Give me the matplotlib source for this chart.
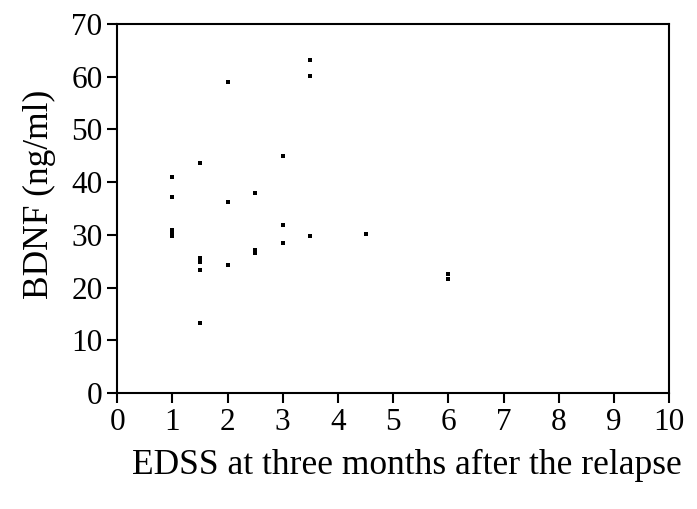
import matplotlib
matplotlib.use("Agg")
import matplotlib.pyplot as plt

# ---- Data ----
edss = [1, 1, 1, 1, 1,
        1.5, 1.5, 1.5, 1.5, 1.5,
        2, 2, 2,
        2.5, 2.5, 2.5,
        3, 3, 3,
        3.5, 3.5, 3.5,
        4.5,
        6, 6]
bdnf = [41.0, 37.1, 31.0, 30.3, 29.8,
        43.6, 25.6, 24.8, 23.3, 13.3,
        58.9, 36.3, 24.2,
        38.0, 27.2, 26.6,
        45.0, 31.9, 28.5,
        63.1, 60.1, 29.8,
        30.2,
        22.5, 21.6]

x_ticks = list(range(0, 11))
y_ticks = list(range(0, 71, 10))

plt.rcParams['font.family'] = ['Liberation Serif', 'DejaVu Serif']

fig = plt.figure(figsize=(6.97, 5.09), dpi=100)
ax = fig.add_axes([0.168, 0.228, 0.792, 0.725])

ax.scatter(edss, bdnf, marker="s", s=12, color="black", linewidths=0)

ax.set_xlim(0, 10)
ax.set_ylim(0, 70)
ax.set_xticks(x_ticks)
ax.set_yticks(y_ticks)
ax.tick_params(direction="out", length=7.5, width=1.5, labelsize=22.5, pad=3)
for sp in ax.spines.values():
    sp.set_linewidth(1.5)

ax.set_xlabel("EDSS at three months after the relapse", fontsize=25.5)
ax.set_ylabel("BDNF (ng/ml)", fontsize=25.5)
ax.xaxis.set_label_coords(0.525, -0.152)
ax.yaxis.set_label_coords(-0.111, 0.537)

fig.savefig("out.png", dpi=100)
